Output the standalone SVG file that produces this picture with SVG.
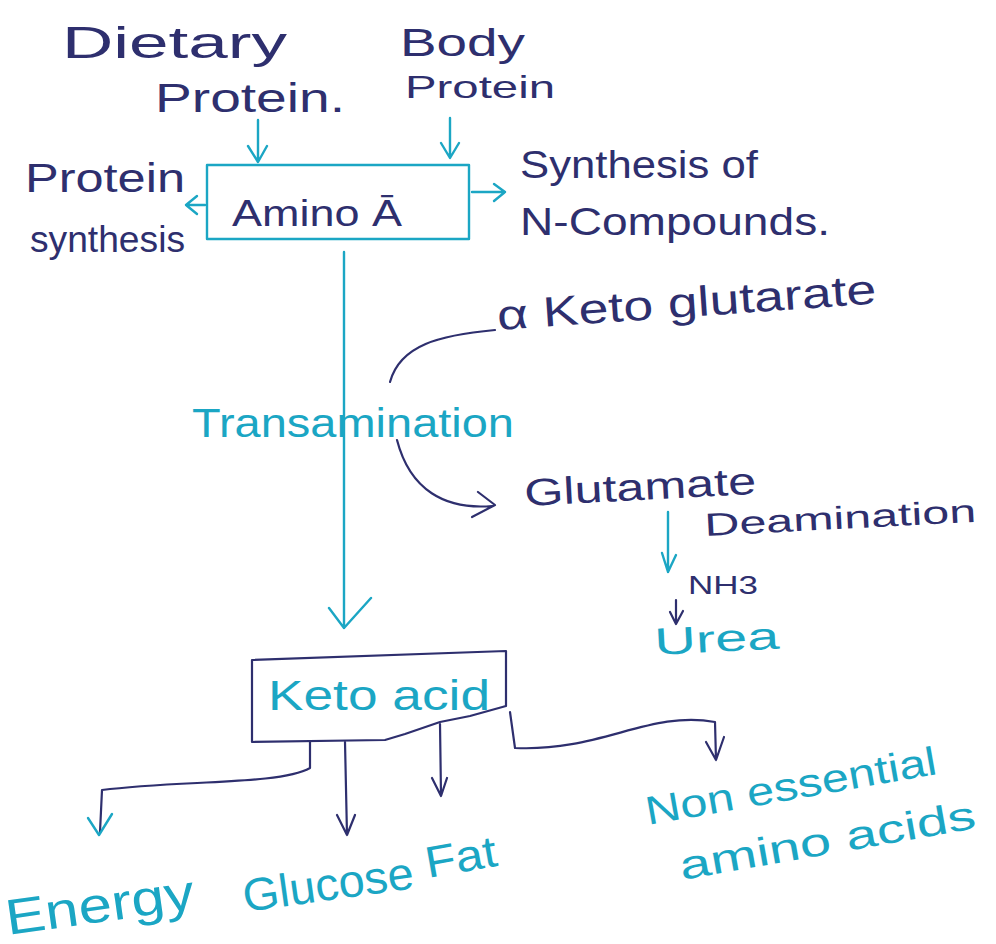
<svg xmlns="http://www.w3.org/2000/svg" width="996" height="944" viewBox="0 0 996 944">
<style>
.d{fill:#2e2f6e;font-family:"Liberation Sans","DejaVu Sans",sans-serif}
.c{fill:#1ba6c4;font-family:"Liberation Sans","DejaVu Sans",sans-serif}
.ld{stroke:#2e2f6e;stroke-width:2.2;fill:none;stroke-linecap:round;stroke-linejoin:round}
.lc{stroke:#1ba6c4;stroke-width:2.4;fill:none;stroke-linecap:round;stroke-linejoin:round}
</style>
<rect width="996" height="944" fill="#ffffff"/>
<g id="dietary-protein">
<text class="d" x="62" y="58" font-size="44" textLength="225" lengthAdjust="spacingAndGlyphs">Dietary</text>
<text class="d" x="155" y="112" font-size="40" textLength="190" lengthAdjust="spacingAndGlyphs">Protein.</text>
</g>
<g id="body-protein">
<text class="d" x="400" y="56" font-size="38" textLength="125" lengthAdjust="spacingAndGlyphs">Body</text>
<text class="d" x="405" y="98" font-size="32" textLength="150" lengthAdjust="spacingAndGlyphs">Protein</text>
</g>
<g id="amino-acid">
<rect x="207" y="165" width="262" height="74" class="lc"/>
<text class="d" x="232" y="226" font-size="36" textLength="170" lengthAdjust="spacingAndGlyphs">Amino Ā</text>
</g>
<g id="protein-synthesis">
<text class="d" x="25" y="192" font-size="40" textLength="160" lengthAdjust="spacingAndGlyphs">Protein</text>
<text class="d" x="30" y="252" font-size="36" textLength="155" lengthAdjust="spacingAndGlyphs">synthesis</text>
</g>
<g id="n-compounds">
<text class="d" x="520" y="178" font-size="38" textLength="238" lengthAdjust="spacingAndGlyphs">Synthesis of</text>
<text class="d" x="520" y="235" font-size="38" textLength="310" lengthAdjust="spacingAndGlyphs">N-Compounds.</text>
</g>
<g id="alpha-ketoglutarate">
<text class="d" x="498" y="330" font-size="42" textLength="380" lengthAdjust="spacingAndGlyphs" transform="rotate(-4 498 330)">α Keto glutarate</text>
</g>
<g id="transamination">
<text class="c" x="192" y="437" font-size="40" textLength="322" lengthAdjust="spacingAndGlyphs">Transamination</text>
</g>
<g id="glutamate">
<text class="d" x="525" y="506" font-size="38" textLength="232" lengthAdjust="spacingAndGlyphs" transform="rotate(-3 525 506)">Glutamate</text>
</g>
<g id="deamination">
<text class="d" x="705" y="536" font-size="32" textLength="272" lengthAdjust="spacingAndGlyphs" transform="rotate(-3 705 536)">Deamination</text>
</g>
<g id="nh3">
<text class="d" x="688" y="594" font-size="26" textLength="70" lengthAdjust="spacingAndGlyphs">NH3</text>
</g>
<g id="urea">
<text class="c" x="655" y="655" font-size="38" textLength="125" lengthAdjust="spacingAndGlyphs" transform="rotate(-3 655 655)">Urea</text>
</g>
<g id="keto-acid">
<path d="M252 660 L506 651 L506 706 L470 716 L440 722 L405 734 L385 740 L252 742 Z" class="ld"/>
<text class="c" x="268" y="710" font-size="42" textLength="222" lengthAdjust="spacingAndGlyphs">Keto acid</text>
</g>
<g id="energy">
<text class="c" x="8" y="935" font-size="50" textLength="190" lengthAdjust="spacingAndGlyphs" transform="rotate(-8 8 935)">Energy</text>
</g>
<g id="glucose">
<text class="c" x="245" y="912" font-size="46" textLength="172" lengthAdjust="spacingAndGlyphs" transform="rotate(-8 245 912)">Glucose</text>
</g>
<g id="fat">
<text class="c" x="428" y="878" font-size="44" textLength="72" lengthAdjust="spacingAndGlyphs" transform="rotate(-10 428 878)">Fat</text>
</g>
<g id="non-essential">
<text class="c" x="648" y="825" font-size="40" textLength="295" lengthAdjust="spacingAndGlyphs" transform="rotate(-10 648 825)">Non essential</text>
<text class="c" x="682" y="880" font-size="40" textLength="300" lengthAdjust="spacingAndGlyphs" transform="rotate(-10 682 880)">amino acids</text>
</g>
<g id="connectors">
<path d="M258 120 L258 160 M248 146 L258 162 L267 146" class="lc"/>
<path d="M450 118 L450 156 M441 143 L450 158 L459 143" class="lc"/>
<path d="M205 205 L186 205 M197 196 L186 205 L197 214" class="lc"/>
<path d="M472 192 L505 192 M494 184 L505 192 M494 201 L505 192" class="lc"/>
<path d="M344 252 L344 628 M329 608 L344 628 L371 598" class="lc"/>
<path d="M390 382 C400 345 440 335 495 330" class="ld"/>
<path d="M397 440 C410 490 445 510 492 506 M478 492 L495 505 L472 517" class="ld"/>
<path d="M668 512 L668 572 M662 553 L668 572 L676 555" class="lc"/>
<path d="M676 600 L676 622 M670 612 L676 624 L683 611" class="ld"/>
<path d="M310 742 L310 768 C280 785 180 780 102 790 L100 832" class="ld"/>
<path d="M88 818 L99 835 L112 814" class="lc"/>
<path d="M345 742 L347 835 M337 815 L347 835 L355 815" class="ld"/>
<path d="M440 724 L441 795 M432 778 L441 796 L447 778" class="ld"/>
<path d="M510 712 L515 748 C600 752 650 710 715 722 L716 760 M706 742 L716 760 L724 737" class="ld"/>
</g>
</svg>
